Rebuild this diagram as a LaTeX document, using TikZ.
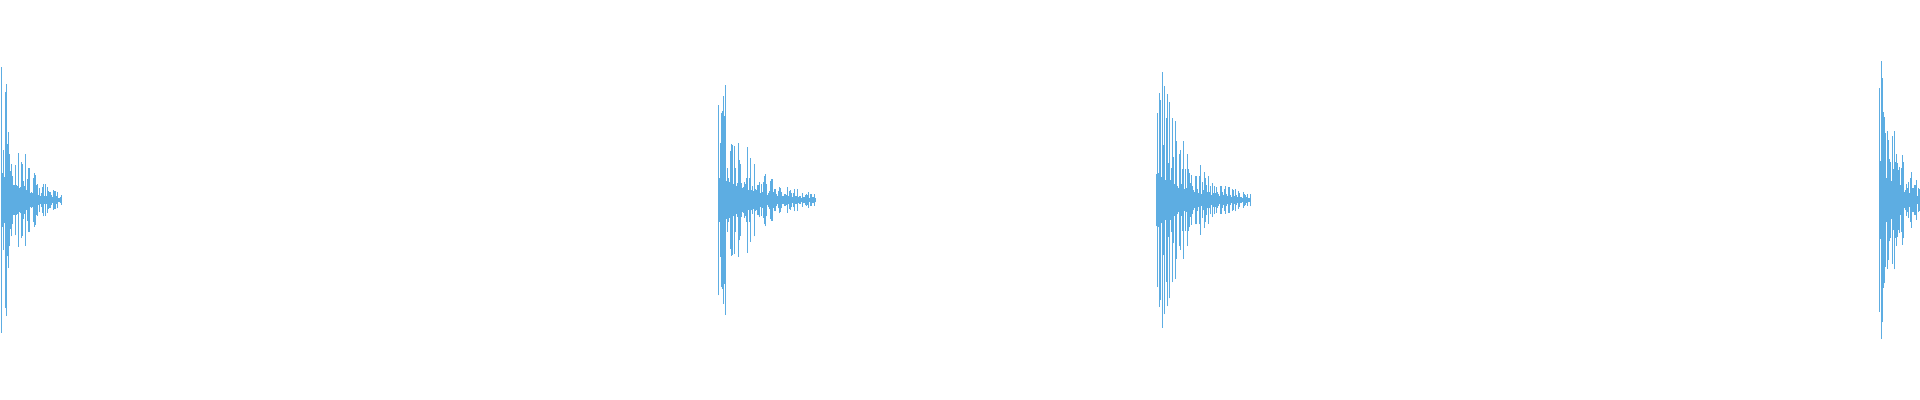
\documentclass[tikz,border=0pt]{standalone}
\definecolor{wave}{HTML}{5DADE2}
\tikzset{wave line/.style={draw=wave, line width=0.45pt}}
% one decaying burst: #1 start, #2 peak amplitude, #3 length
\newcommand{\waveburst}[3]{%
  \foreach \i in {0,...,#3}{%
    \pgfmathsetmacro{\r}{rnd}
    \pgfmathsetmacro{\h}{#2*exp(-\i/(#3/3.2))*(0.15+0.85*\r*\r)+1}
    \draw[wave line] ({#1+\i*0.8},{200-\h}) -- ({#1+\i*0.8},{200+\h});
  }}
\begin{document}
\begin{tikzpicture}[x=0.5pt,y=0.5pt]
  \useasboundingbox (0,0) rectangle (1920,400);
  \clip (0,0) rectangle (1920,400);
  \pgfmathsetseed{7}

  % Ráfagas
  \waveburst{1}{165}{75}
  \waveburst{718}{145}{122}
  \waveburst{1156}{158}{118}
  \waveburst{1879}{165}{75}
\end{tikzpicture}
\end{document}
